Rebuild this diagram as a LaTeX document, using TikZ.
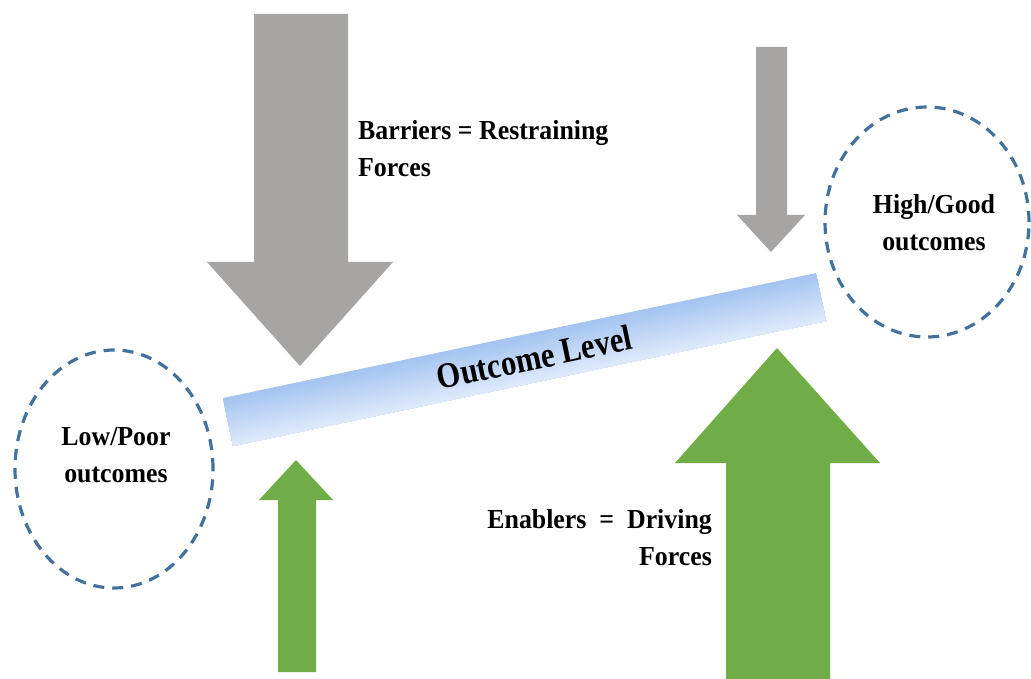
\documentclass[tikz,border=0pt]{standalone}
\usepackage{fontspec}
\setmainfont{Liberation Serif}
\usetikzlibrary{shapes.geometric}
\definecolor{forcegray}{RGB}{167,165,163}
\definecolor{forcegreen}{RGB}{112,173,71}
\definecolor{ringblue}{RGB}{65,113,156}
\definecolor{bartop}{RGB}{163,195,240}
\definecolor{barbottom}{RGB}{222,234,251}
\begin{document}
\begin{tikzpicture}[x=1pt,y=-1pt,
  restrain/.style={fill=forcegray,draw=none},
  drive/.style={fill=forcegreen,draw=none},
  ring/.style={ellipse,draw=ringblue,line width=3.2pt,dash pattern=on 11pt off 8pt,inner sep=0pt},
  lbl/.style={font=\bfseries\fontsize{27.5}{37}\selectfont,inner sep=0pt,xscale=0.94}]
\useasboundingbox (0,0) rectangle (1031,679);

% restraining forces (pushing down)
\fill[restrain] (254,14) -- (348,14) -- (348,262) -- (393,262) -- (300,366)
  -- (207,262) -- (254,262) -- cycle;
\fill[restrain] (756,47) -- (787,47) -- (787,215) -- (805,215) -- (771,252)
  -- (737,215) -- (756,215) -- cycle;

% driving forces (pushing up)
\fill[drive] (278,672) -- (316,672) -- (316,500) -- (333,500) -- (296,460)
  -- (259,500) -- (278,500) -- cycle;
\fill[drive] (726,679) -- (830,679) -- (830,463) -- (880,463) -- (777,348)
  -- (675,463) -- (726,463) -- cycle;

% tilted outcome bar: each band runs from its own offset to the lower edge,
% so the next lighter band covers it and no seams show
\begin{scope}[shift={(524.5,359.5)},rotate=11.9]
  \foreach \i in {0,...,48}{
    \pgfmathtruncatemacro{\pct}{100-\i*100/48}
    \fill[bartop!\pct!barbottom] (-303,-24.5+\i) rectangle (303,24.5);
  }
  \coordinate (barmid) at (10,0);
\end{scope}
\node[inner sep=0pt,font=\bfseries\fontsize{36}{40}\selectfont,rotate=11.9,xscale=0.85] (level) at (barmid) {Outcome Level};

% outcome rings
\node[ring,minimum width=198pt,minimum height=238pt] (low) at (114,469) {};
\node[lbl,align=center] (lowtxt) at (116,455) {Low/Poor\\outcomes};
\node[ring,minimum width=204pt,minimum height=230pt] (high) at (927,222) {};
\node[lbl,align=center] (hightxt) at (934,223) {High/Good\\outcomes};

% force labels
\node[lbl,align=left,anchor=north west] (barriers) at (358,120) {Barriers = Restraining\\Forces};
\node[lbl,align=right,anchor=north east] (enablers) at (712,509) {Enablers \ = \ Driving\\Forces};
\end{tikzpicture}
\end{document}
